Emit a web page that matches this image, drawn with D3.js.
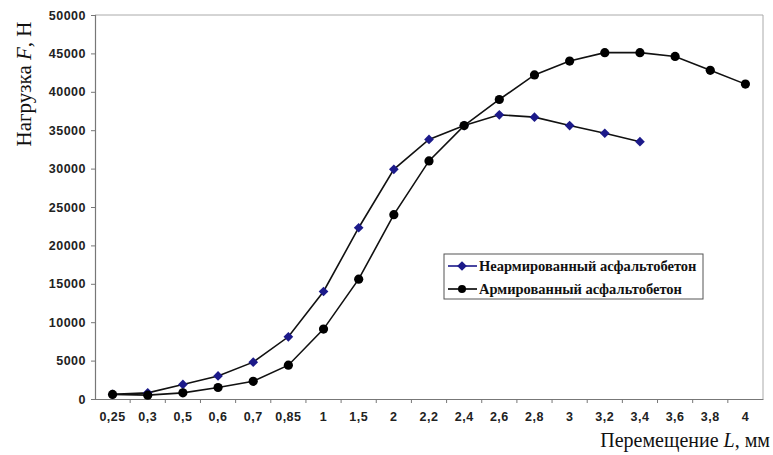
<!DOCTYPE html>
<html>
<head>
<meta charset="utf-8">
<script src="https://cdn.jsdelivr.net/npm/d3@7"></script>
<style>
  body { margin: 0; background: #fff; }
  svg { display: block; }
  .tick text { font-family: "Liberation Sans", Arial, sans-serif; font-weight: bold; font-size: 12.5px; fill: #222; letter-spacing: 0.5px; }
</style>
</head>
<body>
<svg width="773" height="455"></svg>
<script>
var categories = ["0,25", "0,3", "0,5", "0,6", "0,7", "0,85", "1", "1,5", "2", "2,2",
                  "2,4", "2,6", "2,8", "3", "3,2", "3,4", "3,6", "3,8", "4"];
// Неармированный асфальтобетон (до 3,4 мм)
var unreinforced = [600, 800, 1900, 3000, 4800, 8100, 14000, 22300, 29900, 33800,
                    35600, 37000, 36700, 35600, 34600, 33500];
// Армированный асфальтобетон
var reinforced = [600, 500, 800, 1500, 2300, 4400, 9100, 15600, 24000, 31000,
                  35600, 39000, 42200, 44000, 45100, 45100, 44600, 42800, 41000];
var yTicks = [0, 5000, 10000, 15000, 20000, 25000, 30000, 35000, 40000, 45000, 50000];
var seriesNames = ["Неармированный асфальтобетон", "Армированный асфальтобетон"];

var svg = d3.select("svg");
var plotLeft = 95, plotRight = 763, plotTop = 15, plotBottom = 399;

var x = d3.scaleBand().domain(categories).range([plotLeft, plotRight]);
var y = d3.scaleLinear().domain([0, 50000]).range([plotBottom, plotTop]);

// рамка области построения
svg.append("line").attr("x1", plotLeft).attr("x2", plotRight).attr("y1", plotTop).attr("y2", plotTop)
  .attr("stroke", "#aaa");
svg.append("line").attr("x1", plotRight).attr("x2", plotRight).attr("y1", plotTop).attr("y2", plotBottom)
  .attr("stroke", "#aaa");

var yAxis = svg.append("g")
  .attr("transform", "translate(" + plotLeft + ",0)")
  .call(d3.axisLeft(y).tickValues(yTicks).tickSize(4).tickPadding(5).tickFormat(d3.format("d")));

var xAxis = svg.append("g")
  .attr("transform", "translate(0," + plotBottom + ")")
  .call(d3.axisBottom(x).tickSize(0).tickPadding(13));

// деления между категориями
xAxis.selectAll(".divider")
  .data(categories.slice(1))
  .enter().append("line")
    .attr("x1", d => x(d)).attr("x2", d => x(d))
    .attr("y1", 0).attr("y2", 4)
    .attr("stroke", "#777");

svg.selectAll(".domain").attr("stroke", "#777").attr("stroke-width", 1.2);
yAxis.selectAll(".tick line").attr("stroke", "#777");

function px(i) { return x(categories[i]) + x.bandwidth() / 2; }

var line = d3.line().x((d, i) => px(i)).y(d => y(d));

svg.append("path").datum(reinforced)
  .attr("d", line).attr("fill", "none").attr("stroke", "#111").attr("stroke-width", 1.6);
svg.append("path").datum(unreinforced)
  .attr("d", line).attr("fill", "none").attr("stroke", "#111").attr("stroke-width", 1.6);

var diamond = d3.symbol().type(d3.symbolDiamond2).size(60);

svg.selectAll(".blue")
  .data(unreinforced)
  .enter().append("path")
    .attr("transform", (d, i) => "translate(" + px(i) + "," + y(d) + ")")
    .attr("d", diamond)
    .attr("fill", "#1c1a8a");

svg.selectAll(".black")
  .data(reinforced)
  .enter().append("circle")
    .attr("cx", (d, i) => px(i))
    .attr("cy", d => y(d))
    .attr("r", 4.6)
    .attr("fill", "#000");

// легенда
var lg = svg.append("g").attr("transform", "translate(444,254)");
lg.append("rect").attr("width", 259).attr("height", 45)
  .attr("fill", "#fff").attr("stroke", "#555");
seriesNames.forEach(function(name, i) {
  var ly = 12 + i * 23;
  lg.append("line").attr("x1", 4).attr("x2", 33).attr("y1", ly).attr("y2", ly)
    .attr("stroke", i === 0 ? "#1c1a8a" : "#000").attr("stroke-width", 1.6);
  if (i === 0) {
    lg.append("path").attr("transform", "translate(18," + ly + ")")
      .attr("d", diamond).attr("fill", "#1c1a8a");
  } else {
    lg.append("circle").attr("cx", 18).attr("cy", ly).attr("r", 4).attr("fill", "#000");
  }
  lg.append("text").attr("x", 35).attr("y", ly + 5)
    .attr("font-family", "Liberation Serif, Times New Roman, serif")
    .attr("font-weight", "bold").attr("font-size", 14.5)
    .attr("fill", "#111")
    .text(name);
});

// подписи осей
var yt = svg.append("text")
  .attr("transform", "translate(31,84) rotate(-90)")
  .attr("text-anchor", "middle")
  .attr("font-family", "Liberation Serif, Times New Roman, serif")
  .attr("font-size", 21).attr("fill", "#111");
yt.append("tspan").text("Нагрузка ");
yt.append("tspan").attr("font-style", "italic").text("F");
yt.append("tspan").text(", Н");

var xt = svg.append("text")
  .attr("x", 770).attr("y", 447)
  .attr("text-anchor", "end")
  .attr("font-family", "Liberation Serif, Times New Roman, serif")
  .attr("font-size", 20).attr("fill", "#111");
xt.append("tspan").text("Перемещение ");
xt.append("tspan").attr("font-style", "italic").text("L");
xt.append("tspan").text(", мм");
</script>
</body>
</html>
